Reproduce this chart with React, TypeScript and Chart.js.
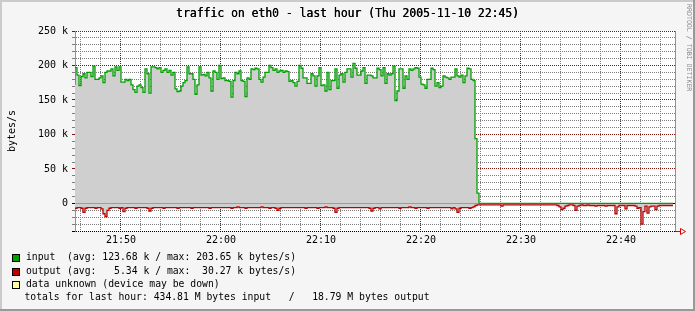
import React, { useEffect, useRef } from 'react';
import { Chart, registerables } from 'chart.js';

Chart.register(...registerables);

const W = 695;
const H = 311;
const MONO = '"DejaVu Sans Mono", monospace';

const TITLE = 'traffic on eth0 - last hour (Thu 2005-11-10 22:45)';
const Y_TITLE = 'bytes/s';
const WATERMARK = 'RRDTOOL / TOBI OETIKER';

const LEGEND_LABELS = [
  'input  (avg: 123.68 k / max: 203.65 k bytes/s)',
  'output (avg:   5.34 k / max:  30.27 k bytes/s)',
  'data unknown (device may be down)',
];
const TOTALS = 'totals for last hour: 434.81 M bytes input   /   18.79 M bytes output';

// time axis in minutes since midnight; one sample every 12 s
const T_START = 1305.4;
const T_END = 1365.4;
const STEP_MIN = 0.2;

const X_GRID = [1306, 1308, 1310, 1312, 1314, 1316, 1318, 1320, 1322, 1324, 1326, 1328, 1330, 1332, 1334, 1336, 1338, 1340, 1342, 1344, 1346, 1348, 1350, 1352, 1354, 1356, 1358, 1360, 1362, 1364];
const X_MAJOR = [1310, 1320, 1330, 1340, 1350, 1360];
const X_LABELS = ['21:50', '22:00', '22:10', '22:20', '22:30', '22:40'];

const Y_MIN = -40;
const Y_MAX = 250;
const Y_STEP = 10;
const Y_LABEL_VALUES = [0, 50, 100, 150, 200, 250];
const Y_LABELS = ['0', '50 k', '100 k', '150 k', '200 k', '250 k'];

// input, k bytes/s
const INPUT_K = [
  172, 197, 186, 171, 184, 188, 182, 190, 190, 184,
  199, 180, 180, 182, 185, 175, 190, 192, 192, 195,
  185, 198, 193, 198, 176, 176, 180, 178, 180, 172,
  165, 161, 170, 172, 168, 161, 195, 188, 160, 198,
  198, 197, 195, 197, 190, 193, 195, 190, 193, 186,
  190, 166, 162, 163, 170, 175, 178, 198, 188, 188,
  180, 158, 172, 198, 186, 187, 185, 190, 182, 163,
  192, 190, 180, 200, 181, 182, 178, 178, 177, 154,
  178, 190, 188, 192, 178, 177, 155, 182, 180, 195,
  194, 196, 195, 180, 176, 183, 190, 190, 200, 197,
  193, 195, 190, 192, 193, 190, 192, 191, 177, 178,
  175, 170, 177, 200, 196, 182, 182, 174, 174, 188,
  185, 170, 185, 197, 171, 172, 163, 190, 165, 178,
  178, 195, 167, 186, 188, 176, 190, 195, 195, 183,
  203, 196, 186, 186, 192, 197, 174, 186, 186, 185,
  182, 182, 196, 194, 185, 197, 174, 188, 186, 188,
  199, 149, 163, 195, 195, 167, 185, 180, 195, 193,
  195, 197, 196, 183, 173, 172, 167, 180, 180, 196,
  194, 170, 175, 168, 170, 185, 183, 182, 180, 183,
  183, 195, 185, 183, 186, 175, 185, 196, 195, 180,
  178, 94, 15, 0, 0, 0, 0, 0, 0, 0,
  0, 0, 0, 0, 0, 0, 0, 0, 0, 0,
  0, 0, 0, 0, 0, 0, 0, 0, 0, 0,
  0, 0, 0, 0, 0, 0, 0, 0, 0, 0,
  0, 0, 0, 0, 0, 0, 0, 0, 0, 0,
  0, 0, 0, 0, 0, 0, 0, 0, 0, 0,
  0, 0, 0, 0, 0, 0, 0, 0, 0, 0,
  0, 0, 0, 0, 0, 0, 0, 0, 0, 0,
  0, 0, 0, 0, 0, 0, 0, 0, 0, 0,
  0, 0, 0, 0, 0, 0, 0, 0, 0, 0,
];

// output, k bytes/s (drawn mirrored below zero)
const OUTPUT_K = [
  6, 7, 6, 6, 7, 13, 7, 6, 6, 6,
  6, 7, 6, 6, 8, 15, 19, 10, 7, 6,
  6, 6, 6, 7, 6, 12, 7, 6, 6, 6,
  6, 7, 6, 6, 6, 6, 6, 7, 11, 7,
  6, 6, 6, 6, 6, 7, 6, 6, 6, 6,
  6, 6, 7, 6, 6, 6, 6, 6, 6, 7,
  6, 6, 6, 6, 6, 6, 6, 6, 7, 6,
  6, 6, 6, 6, 6, 6, 6, 6, 6, 7,
  6, 6, 5, 6, 6, 6, 7, 6, 6, 6,
  6, 6, 6, 6, 5, 6, 6, 6, 7, 6,
  6, 7, 10, 7, 6, 6, 6, 6, 6, 6,
  6, 6, 6, 6, 6, 6, 7, 6, 6, 6,
  6, 6, 7, 6, 6, 6, 5, 6, 6, 6,
  7, 13, 7, 6, 6, 6, 6, 6, 6, 6,
  6, 6, 6, 6, 6, 6, 6, 6, 7, 11,
  7, 6, 6, 8, 6, 6, 6, 6, 6, 6,
  6, 6, 6, 7, 6, 6, 6, 6, 5, 6,
  6, 7, 6, 6, 6, 6, 6, 7, 6, 6,
  6, 6, 6, 6, 6, 6, 6, 6, 6, 8,
  6, 8, 13, 7, 6, 6, 6, 6, 7, 6,
  5, 3, 2, 2, 2, 2, 2, 2, 2, 2,
  2, 2, 2, 2, 4, 2, 2, 2, 2, 2,
  2, 2, 2, 2, 2, 2, 2, 2, 2, 2,
  2, 2, 2, 2, 2, 2, 2, 2, 2, 2,
  2, 2, 3, 5, 9, 7, 4, 3, 2, 2,
  3, 10, 4, 3, 2, 3, 3, 2, 3, 3,
  3, 4, 3, 3, 3, 3, 4, 3, 3, 3,
  3, 15, 5, 3, 3, 3, 8, 3, 3, 3,
  3, 4, 7, 6, 30, 12, 4, 14, 5, 4,
  4, 9, 4, 3, 3, 3, 3, 3, 3, 3,
];

const GREEN = '#00a000';
const RED = '#c00000';
const UNKNOWN = '#ffffa0';
const AREA = '#cfcfcf';
const GRID = '#7c7c7c';
const MGRID = '#801010';
const AXIS_GRAY = '#909090';

const framePlugin = {
  id: 'rrdFrame',
  beforeDraw(chart: any) {
    const { ctx, chartArea: a } = chart;
    ctx.save();
    ctx.fillStyle = '#f5f5f5';
    ctx.fillRect(0, 0, W, H);
    ctx.fillStyle = '#cbcbcb';
    ctx.fillRect(0, 0, W, 2);
    ctx.fillRect(0, 0, 2, H);
    ctx.fillStyle = '#999999';
    ctx.fillRect(0, H - 2, W, 2);
    ctx.fillRect(W - 2, 0, 2, H);
    ctx.fillStyle = '#ffffff';
    ctx.fillRect(a.left, a.top, a.right - a.left, a.bottom - a.top);
    ctx.restore();
  },
};

const overlayPlugin = {
  id: 'rrdOverlay',
  afterDraw(chart: any) {
    const { ctx, chartArea: a } = chart;
    ctx.save();
    // title
    ctx.fillStyle = '#000';
    ctx.font = `11.4px ${MONO}`;
    ctx.textAlign = 'center';
    ctx.textBaseline = 'middle';
    ctx.fillText(TITLE, W / 2, 14.5);
    ctx.fillText(TITLE, W / 2 + 0.3, 14.5);

    // watermark
    ctx.save();
    ctx.translate(688.5, 4);
    ctx.rotate(Math.PI / 2);
    ctx.font = `6.6px ${MONO}`;
    ctx.fillStyle = '#8a8a8a';
    ctx.textAlign = 'left';
    ctx.textBaseline = 'middle';
    ctx.fillText(WATERMARK, 0, 0);
    ctx.restore();

    // arrow at the end of the x axis
    const yb = Math.round(a.bottom) + 0.5;
    ctx.strokeStyle = '#e00000';
    ctx.lineWidth = 1;
    ctx.beginPath();
    ctx.moveTo(a.right, yb);
    ctx.lineTo(a.right + 5, yb);
    ctx.moveTo(a.right + 5.5, yb - 3);
    ctx.lineTo(a.right + 5.5, yb + 3);
    ctx.lineTo(a.right + 10.5, yb);
    ctx.closePath();
    ctx.stroke();

    // legend
    const colors = [GREEN, RED, UNKNOWN];
    const rowY = [257.5, 271.5, 284.5];
    ctx.font = `9.75px ${MONO}`;
    ctx.textAlign = 'left';
    ctx.textBaseline = 'middle';
    LEGEND_LABELS.forEach((label, i) => {
      const top = Math.round(rowY[i]) - 4;
      ctx.fillStyle = colors[i];
      ctx.fillRect(12, top, 8, 8);
      ctx.strokeStyle = '#000';
      ctx.strokeRect(12.5, top + 0.5, 7, 7);
      ctx.fillStyle = '#000';
      ctx.fillText(label, 26, rowY[i]);
    });
    ctx.fillText(TOTALS, 24.5, 297.5);
    ctx.restore();
  },
};

function yGridColor(v: number | undefined) {
  if (v === 0 || v === Y_MIN) return '#000000';
  if (v !== undefined && v % 50 === 0) return MGRID;
  return GRID;
}

export default function App() {
  const ref = useRef<HTMLCanvasElement>(null);

  useEffect(() => {
    const canvas = ref.current;
    if (!canvas) return;
    const inputData = INPUT_K.map((v, i) => ({ x: T_START + i * STEP_MIN, y: v }));
    const outputData = OUTPUT_K.map((v, i) => ({ x: T_START + i * STEP_MIN, y: -v }));

    const chart = new Chart(canvas, {
      type: 'line',
      data: {
        datasets: [
          {
            label: 'input',
            data: inputData,
            borderColor: GREEN,
            backgroundColor: AREA,
            fill: 'origin',
            stepped: 'after',
            borderWidth: 1.3,
            pointRadius: 0,
          },
          {
            label: 'output',
            data: outputData,
            borderColor: RED,
            backgroundColor: AREA,
            fill: 'origin',
            stepped: 'after',
            borderWidth: 1.3,
            pointRadius: 0,
          },
        ],
      },
      options: {
        animation: false,
        responsive: false,
        devicePixelRatio: 1,
        events: [],
        layout: { padding: { top: 31, left: 0, right: 0, bottom: 0 } },
        plugins: {
          legend: { display: false },
          title: { display: false },
          tooltip: { enabled: false },
        },
        scales: {
          x: {
            type: 'linear',
            position: 'bottom',
            min: T_START,
            max: T_END,
            z: 1,
            afterBuildTicks: (s: any) => {
              s.ticks = X_GRID.map((v) => ({ value: v }));
            },
            afterFit: (s: any) => {
              s.height = 80;
            },
            grid: {
              color: (c: any) => (c.tick && X_MAJOR.includes(c.tick.value) ? MGRID : GRID),
              lineWidth: 1,
              drawTicks: false,
            },
            border: { display: false, dash: [1, 1] },
            ticks: {
              autoSkip: false,
              maxRotation: 0,
              padding: 3,
              color: '#000',
              font: { family: MONO, size: 10 },
              callback: (v: any) => {
                const k = X_MAJOR.indexOf(Number(v));
                return k >= 0 ? X_LABELS[k] : '';
              },
            },
          },
          y: {
            type: 'linear',
            position: 'left',
            min: Y_MIN,
            max: Y_MAX,
            z: 1,
            afterFit: (s: any) => {
              s.width = 75;
            },
            grid: {
              color: (c: any) => yGridColor(c.tick ? c.tick.value : undefined),
              lineWidth: 1,
              drawTicks: true,
              tickLength: 3,
            },
            border: {
              display: true,
              color: AXIS_GRAY,
              dash: (c: any) => (c.tick && c.tick.value === 0 ? [] : [1, 1]),
            },
            ticks: {
              stepSize: Y_STEP,
              maxTicksLimit: 100,
              autoSkip: false,
              padding: 4,
              color: '#000',
              font: { family: MONO, size: 10 },
              callback: (v: any) => {
                const k = Y_LABEL_VALUES.indexOf(Number(v));
                return k >= 0 ? Y_LABELS[k] : '';
              },
            },
            title: {
              display: true,
              text: Y_TITLE,
              color: '#000',
              font: { family: MONO, size: 10 },
              padding: { top: 6, bottom: 0 },
            },
          },
          y2: {
            type: 'linear',
            position: 'right',
            afterFit: (s: any) => {
              s.width = 20;
            },
            grid: { display: false },
            ticks: { display: false },
            border: { display: true, color: AXIS_GRAY },
          },
        },
      } as any,
      plugins: [framePlugin, overlayPlugin],
    });
    return () => chart.destroy();
  }, []);

  return (
    <div style={{ position: 'absolute', left: 0, top: 0, width: W, height: H }}>
      <canvas ref={ref} width={W} height={H} style={{ display: 'block', width: W, height: H }} />
    </div>
  );
}
